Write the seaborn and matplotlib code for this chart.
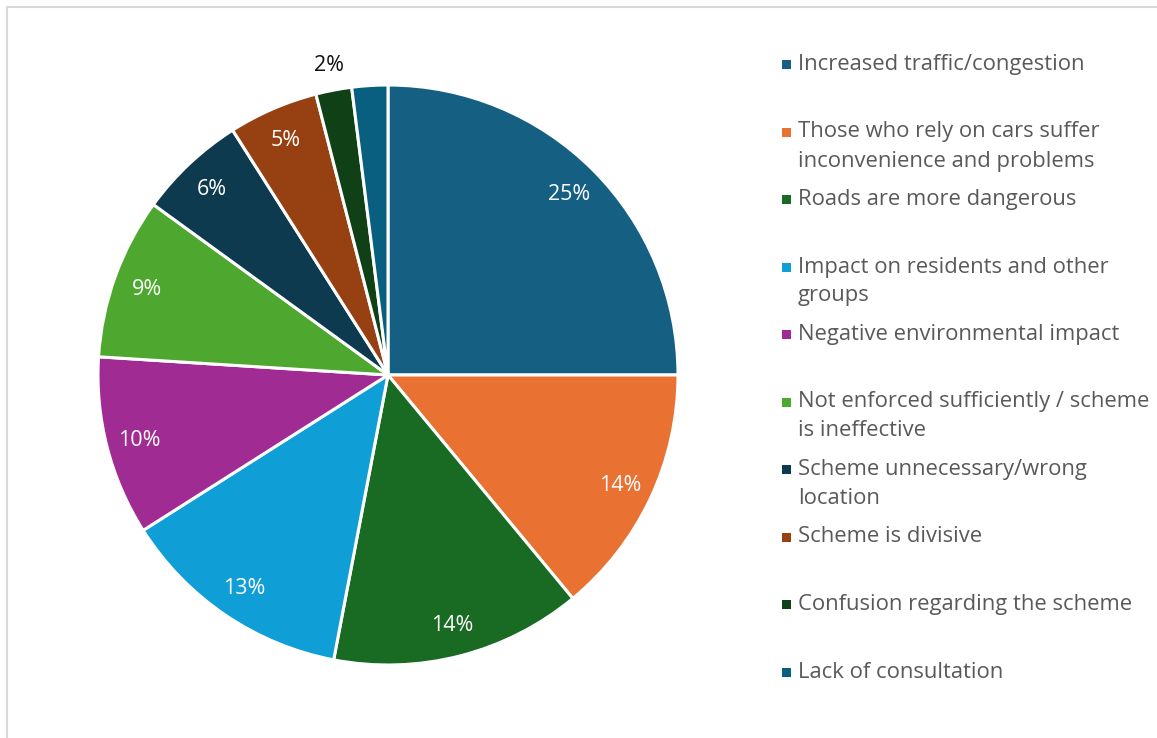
import matplotlib
matplotlib.use("Agg")
import matplotlib.pyplot as plt
import seaborn as sns
import numpy as np
from matplotlib.patches import Rectangle

categories = [
    "Increased traffic/congestion",
    "Those who rely on cars suffer\ninconvenience and problems",
    "Roads are more dangerous",
    "Impact on residents and other\ngroups",
    "Negative environmental impact",
    "Not enforced sufficiently / scheme\nis ineffective",
    "Scheme unnecessary/wrong\nlocation",
    "Scheme is divisive",
    "Confusion regarding the scheme",
    "Lack of consultation",
]
values = [25, 14, 14, 13, 10, 9, 6, 5, 2, 2]
pct_labels = ["25%", "14%", "14%", "13%", "10%", "9%", "6%", "5%", "2%", ""]
colors = ["#156082", "#E97132", "#196B24", "#0F9ED5", "#A02B93",
          "#4EA72E", "#0D3A4E", "#974012", "#0F4016", "#095F80"]

sns.set_theme(style="white")
plt.rcParams["font.family"] = ["Open Sans", "DejaVu Sans"]
palette = sns.color_palette(colors)

W, H = 1157, 738
fig = plt.figure(figsize=(W / 100, H / 100), dpi=100)
fig.patch.set_facecolor("white")

# chart border (partly cut off at right/bottom)
fig.add_artist(Rectangle((7 / W, -0.05), 1.2, (H - 7) / H + 0.05,
                         transform=fig.transFigure, fill=False,
                         edgecolor="#D9D9D9", linewidth=1.5))

cx, cy, r = 388, 375, 290
ax = fig.add_axes([(cx - r) / W, (H - cy - r) / H, 2 * r / W, 2 * r / H])
wedges, _ = ax.pie(values, colors=palette, startangle=90, counterclock=False,
                   radius=1.0,
                   wedgeprops=dict(edgecolor="white", linewidth=2.2))
ax.set_xlim(-1, 1)
ax.set_ylim(-1, 1)
ax.set_aspect("equal", adjustable="box")
ax.axis("off")

total = sum(values)
cum = 0
for i, (v, lab) in enumerate(zip(values, pct_labels)):
    mid = cum + v / 2
    cum += v
    if not lab:
        continue
    ang = np.deg2rad(90 - 360 * mid / total)
    if v <= 2:
        d, col = 1.09, "#111111"
    else:
        d, col = 0.885, "white"
    ax.text(d * np.cos(ang), d * np.sin(ang) - 0.005, lab, ha="center",
            va="center", color=col, fontsize=15.5)

# legend
x_mark, x_text = 786, 798
y0, step, lstep = 64.5, 67.5, 29
for i, (cat, c) in enumerate(zip(categories, palette)):
    y = y0 + step * i
    fig.add_artist(Rectangle(((x_mark - 4.5) / W, (H - y - 4.5) / H), 9 / W, 9 / H,
                             transform=fig.transFigure, facecolor=c,
                             edgecolor="none"))
    for j, line in enumerate(cat.split("\n")):
        fig.text(x_text / W, (H - y - lstep * j) / H, line, ha="left",
                 va="center", color="#595959", fontsize=15.8)

fig.savefig("out.png", dpi=100, facecolor="white")
